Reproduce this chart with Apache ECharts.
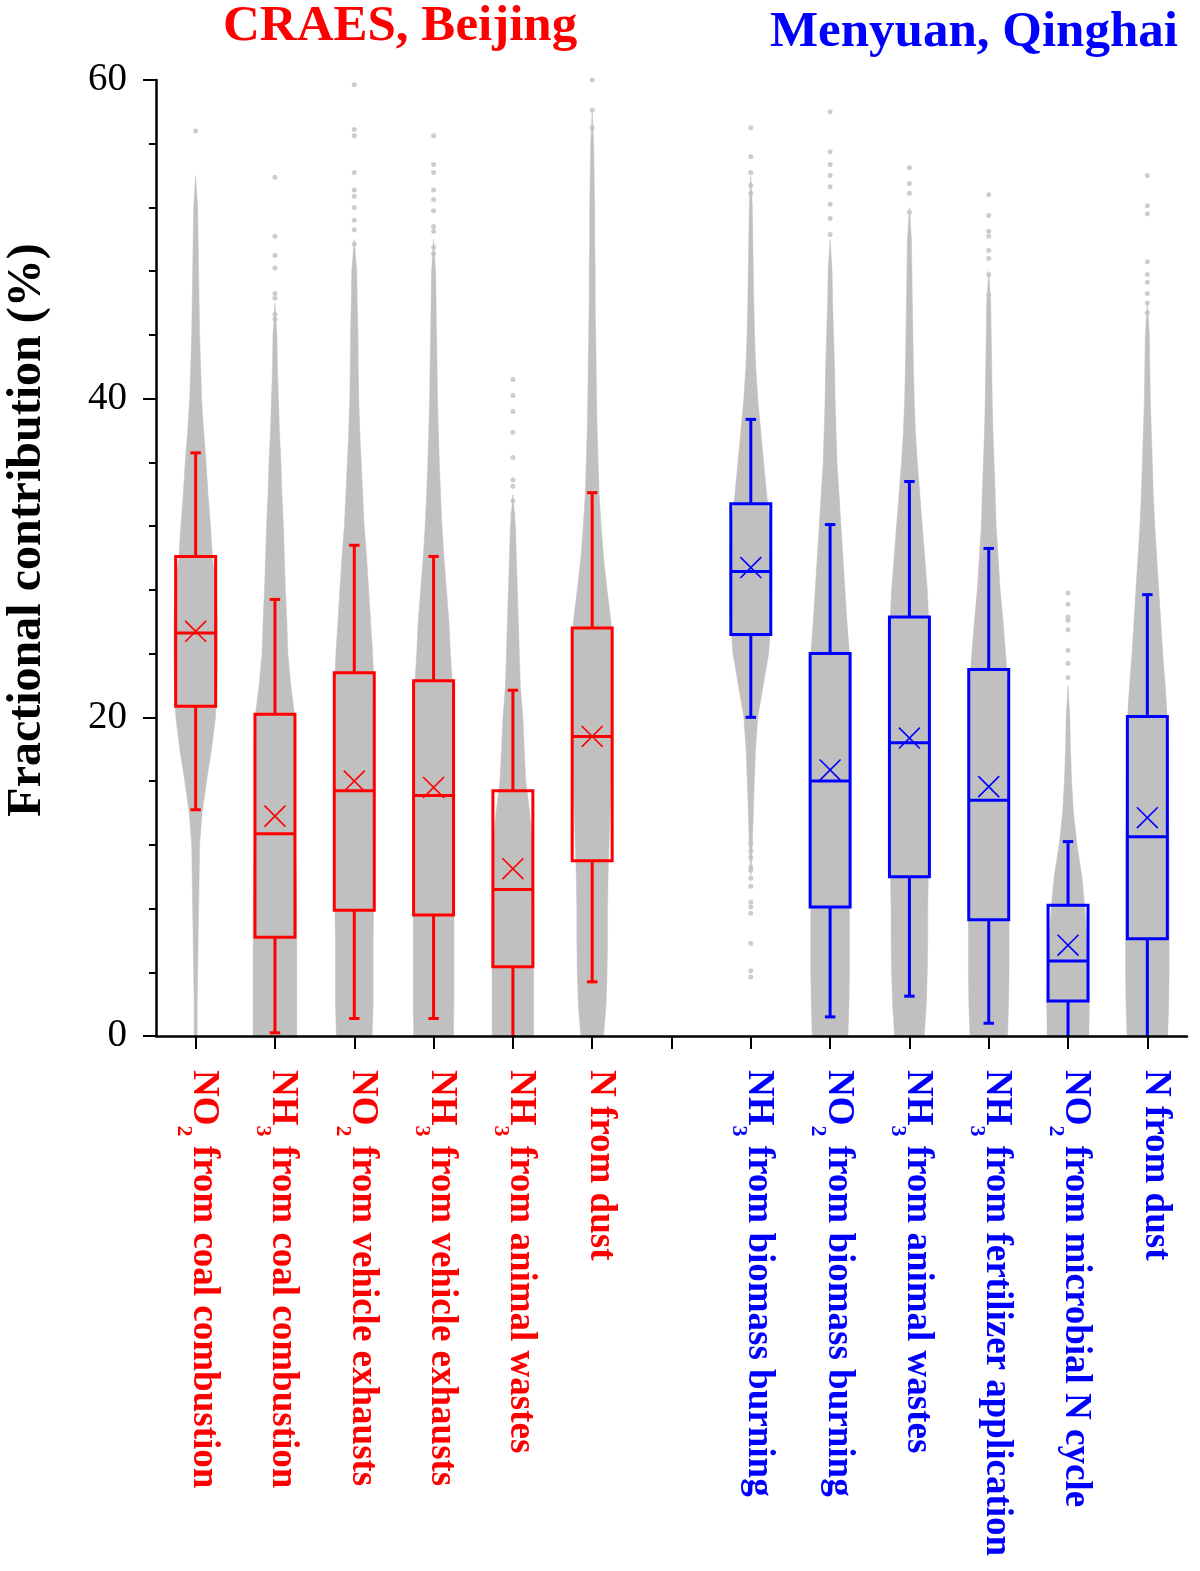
<!DOCTYPE html>
<html>
<head>
<meta charset="utf-8">
<script src="https://cdn.jsdelivr.net/npm/echarts@6.0.0/dist/echarts.min.js"></script>
<style>
html,body{margin:0;padding:0;background:#fff;}
#chart{width:1200px;height:1571px;}
</style>
</head>
<body>
<div id="chart"></div>
<script>
// ---------------- data ----------------
const categories = [
  'NO2 from coal combustion', 'NH3 from coal combustion', 'NO2 from vehicle exhausts',
  'NH3 from vehicle exhausts', 'NH3 from animal wastes', 'N from dust', '',
  'NH3 from biomass burning', 'NO2 from biomass burning', 'NH3 from animal wastes',
  'NH3 from fertilizer application', 'NO2 from microbial N cycle', 'N from dust'
];
const siteOf = ['r','r','r','r','r','r','', 'b','b','b','b','b','b'];
const siteTitles = ['CRAES, Beijing', 'Menyuan, Qinghai'];

// box statistics (%)
const whiskerLow  = [14.2, 0.2, 1.1, 1.1, 0.0, 3.4, null, 20.0, 1.2, 2.5, 0.8, 0.0, 0.0];
const quartile1   = [20.7, 6.2, 7.9, 7.6, 4.35, 11.0, null, 25.2, 8.1, 10.0, 7.3, 2.2, 6.1];
const medianVal   = [25.3, 12.7, 15.4, 15.1, 9.2, 18.8, null, 29.15, 16.0, 18.4, 14.8, 4.7, 12.5];
const meanVal     = [25.4, 13.8, 16.0, 15.6, 10.5, 18.8, null, 29.4, 16.7, 18.7, 15.65, 5.7, 13.7];
const quartile3   = [30.1, 20.2, 22.8, 22.3, 15.4, 25.6, null, 33.4, 24.0, 26.3, 23.0, 8.2, 20.05];
const whiskerHigh = [36.6, 27.4, 30.8, 30.1, 21.7, 34.1, null, 38.7, 32.1, 34.8, 30.6, 12.2, 27.7];

// density of the simulated points: half-width (in 1/80 of a category band) at each level
const cloudLevels = [0,2,4,6,8,10,12,14,16,18,20,22,24,26,28,30,32,34,36,38,40,42,44,46,48,50,52,54,56,58,60];
const cloudHalfWidth = [
  [1.5,1.5,2,2.5,3,3.5,4,6.5,11,16,20,21.5,22,22,21,17,15,12.5,10.5,8,6,5,4,3.5,3,2.5,2,0,0,0,0],
  [22,22,22,22,22,21.5,21,21,21,21,20,16,13,12,10.5,9.5,8.5,7,6,4.5,3.5,2.5,2,0,0,0,0,0,0,0,0],
  [18,19,19,19,19.5,20,20.5,21,21,21,21,20,18.5,16.5,14.5,12.5,10,8.5,7,5.5,4.5,4,3.8,3,2.5,0,0,0,0,0,0],
  [20,20.5,20.5,20.5,20.5,21,21,21,21,21,20,19,17,15.5,13,10.5,8.5,7,5.8,4.8,4,3.5,3,2.5,2,0,0,0,0,0,0],
  [21,21,21,21,21,20.5,20,17,13,11.5,10,7.5,6.5,5.5,4.5,3.5,2.5,0,0,0,0,0,0,0,0,0,0,0,0,0,0],
  [11.5,14,15,15.5,15.5,16,17,18,19,19.5,20,20,20,19,15,11.5,9,7,6,5,4.4,4,3.5,3,3,2.5,2.5,2,1.5,0,0],
  null,
  [0,0,0,0,0,0,1.5,2.5,3.5,4.8,7,12.5,18,20.5,21,21,20,16,13,10,7,5,3.8,3,2.5,2,1.5,0,0,0,0],
  [18,19,19.5,19.5,19.5,19.5,19.5,19.5,19.5,19.5,19.5,19.5,19.5,17,15,13,11,9,7,6,5,4.5,3.5,2.5,2,0,0,0,0,0,0],
  [15,17,18,18.5,18.5,19,19.5,19.5,19.5,19.5,19.5,19.5,19.5,19.5,18,15.5,13,10.5,8,6,4.8,4,3.5,3,2.5,2,0,0,0,0,0],
  [19,20,20.5,20.5,20.5,20.5,20.5,20.5,20.5,20,20,19.5,17,14.5,11.5,9.5,7.5,6.5,5.4,4.2,3.5,3,2.5,2,0,0,0,0,0,0,0],
  [21,21.5,20.5,19,17,14,9,5.5,3.6,2.5,1.8,0,0,0,0,0,0,0,0,0,0,0,0,0,0,0,0,0,0,0,0],
  [20.5,21.5,22,22,22,22,22,21.5,21.5,21,20,18,15.5,13.5,11.5,9.5,7.5,6,5,4,3,2.5,2,0,0,0,0,0,0,0,0]
];

// isolated simulated points (%)
const sparsePoints = [
  [56.8],
  [53.9, 50.2, 49.0, 48.2, 46.6, 46.3, 45.3, 45.0],
  [59.7, 56.9, 56.5, 54.2, 53.1, 52.7, 52.0, 51.2, 50.6, 49.7],
  [56.5, 54.7, 54.2, 53.1, 52.5, 51.8, 50.8, 50.5, 49.5, 49.1],
  [41.2, 40.2, 39.2, 37.9, 36.3, 34.9, 34.5, 33.6, 32.8],
  [60.0, 58.1, 57.0],
  [],
  [57.0, 55.2, 54.2, 53.4, 52.9, 12.1, 11.6, 11.2, 10.6, 10.4, 9.9, 9.4, 8.4, 8.1, 7.7, 5.8, 4.1, 3.7],
  [58.0, 55.5, 54.7, 54.0, 53.3, 52.2, 51.3, 50.3],
  [54.5, 53.5, 52.9, 51.7],
  [52.8, 51.5, 50.5, 50.2, 49.3, 48.8, 47.8, 46.5],
  [27.8, 27.1, 26.3, 26.1, 25.5, 24.2, 23.4, 22.5],
  [54.0, 52.1, 51.6, 48.6, 47.8, 47.3, 46.6, 46.0, 45.4]
];

const yName = 'Fractional contribution (%)';
const yMin = 0, yMax = 60, yInterval = 20;

// ---------------- styles ----------------
const FONT = "'Liberation Serif','Times New Roman',Times,serif";
const COLORS = { r: '#FF0000', b: '#0000FF' };
const GRAY = '#C0C0C0';

// ---------------- build ----------------
const cloudData = [];
cloudHalfWidth.forEach((p, i) => { if (p) cloudData.push([i, 0]); });

const boxData = [];
categories.forEach((c, i) => {
  if (medianVal[i] == null) return;
  boxData.push([i, whiskerLow[i], quartile1[i], medianVal[i], meanVal[i], quartile3[i], whiskerHigh[i]]);
});

const pointData = [];
sparsePoints.forEach((arr, i) => arr.forEach(v => pointData.push([i, v])));

function renderCloud(params, api) {
  const i = api.value(0);
  const prof = cloudHalfWidth[i];
  if (!prof) return;
  const unit = api.size([1, 0])[0] / 80;
  let last = prof.length - 1;
  while (last > 0 && prof[last] === 0 && prof[last - 1] === 0) last--;
  let first = 0;
  while (first < last && prof[first] === 0 && prof[first + 1] === 0) first++;
  const right = [], left = [];
  for (let k = first; k <= last; k++) {
    const p = api.coord([i, cloudLevels[k]]);
    right.push([p[0] + prof[k] * unit, p[1]]);
    left.unshift([p[0] - prof[k] * unit, p[1]]);
  }
  return {
    type: 'polygon',
    shape: { points: right.concat(left) },
    style: { fill: GRAY, stroke: GRAY, lineWidth: 0.5 }
  };
}

function renderBox(params, api) {
  const i = api.value(0);
  const color = COLORS[siteOf[i]];
  const bw = api.size([1, 0])[0];
  const hb = bw * 0.252, hc = bw * 0.066, hm = bw * 0.132;
  const c = v => api.coord([i, v]);
  const low = api.value(1);
  const pLow = c(low), pQ1 = c(api.value(2)), pMed = c(api.value(3)),
        pMean = c(api.value(4)), pQ3 = c(api.value(5)), pHigh = c(api.value(6));
  const x = pMed[0];
  const st = { stroke: color, lineWidth: 3, fill: null };
  const thin = { stroke: color, lineWidth: 1.6, fill: null };
  const children = [
    { type: 'line', shape: { x1: x, y1: pQ3[1], x2: x, y2: pHigh[1] }, style: st },
    { type: 'line', shape: { x1: x, y1: pQ1[1], x2: x, y2: pLow[1] }, style: st },
    { type: 'line', shape: { x1: x - hc, y1: pHigh[1], x2: x + hc, y2: pHigh[1] }, style: st },
    { type: 'rect', shape: { x: x - hb, y: pQ3[1], width: 2 * hb, height: pQ1[1] - pQ3[1] }, style: st },
    { type: 'line', shape: { x1: x - hb, y1: pMed[1], x2: x + hb, y2: pMed[1] }, style: st },
    { type: 'line', shape: { x1: x - hm, y1: pMean[1] - hm, x2: x + hm, y2: pMean[1] + hm }, style: thin },
    { type: 'line', shape: { x1: x - hm, y1: pMean[1] + hm, x2: x + hm, y2: pMean[1] - hm }, style: thin }
  ];
  if (low > 0) {
    children.push({ type: 'line', shape: { x1: x - hc, y1: pLow[1], x2: x + hc, y2: pLow[1] }, style: st });
  }
  return { type: 'group', children };
}

function labelFormatter(value, index) {
  const g = siteOf[index];
  if (!g || !value) return '';
  const m = value.match(/^(N[OH])([23])(.*)$/);
  if (m) return '{' + g + '|' + m[1] + '}{' + g + 's|' + m[2] + '}{' + g + '|' + m[3] + '}';
  return '{' + g + '|' + value + '}';
}

const mainLbl = { fontFamily: FONT, fontWeight: 'bold', fontSize: 37, lineHeight: 44 };
const subLbl = { fontFamily: FONT, fontWeight: 'bold', fontSize: 22, lineHeight: 22, padding: [40, 0, 0, 0] };

const chart = echarts.init(document.getElementById('chart'), null, { renderer: 'canvas' });
chart.setOption({
  backgroundColor: '#ffffff',
  animation: false,
  grid: { left: 156, right: 13, top: 80, bottom: 535, containLabel: false, outerBoundsMode: 'none' },
  graphic: [
    { type: 'text', z: 100, style: { x: 223, y: 27, text: siteTitles[0], font: 'bold 51px ' + FONT, fill: COLORS.r, align: 'left', verticalAlign: 'middle' } },
    { type: 'text', z: 100, style: { x: 1178, y: 33, text: siteTitles[1], font: 'bold 51px ' + FONT, fill: COLORS.b, align: 'right', verticalAlign: 'middle' } }
  ],
  xAxis: {
    type: 'category',
    data: categories,
    boundaryGap: true,
    z: 10,
    axisLine: { show: true, onZero: false, lineStyle: { color: '#000', width: 2.5 } },
    axisTick: { show: true, alignWithLabel: true, interval: 0, length: 13, lineStyle: { color: '#000', width: 2 } },
    splitLine: { show: false },
    axisLabel: {
      interval: 0, rotate: -90, margin: 34, padding: [0, 0, 16, 0],
      formatter: labelFormatter,
      rich: {
        r: Object.assign({ color: COLORS.r }, mainLbl),
        rs: Object.assign({ color: COLORS.r }, subLbl),
        b: Object.assign({ color: COLORS.b }, mainLbl),
        bs: Object.assign({ color: COLORS.b }, subLbl)
      }
    }
  },
  yAxis: {
    type: 'value',
    min: yMin, max: yMax, interval: yInterval,
    z: 10,
    name: yName,
    nameLocation: 'middle',
    nameRotate: 90,
    nameGap: 104,
    nameTextStyle: { fontFamily: FONT, fontWeight: 'bold', fontSize: 48, color: '#000', padding: [0, 0, 0, 56] },
    axisLine: { show: true, lineStyle: { color: '#000', width: 2.5 } },
    axisTick: { show: true, length: 13, lineStyle: { color: '#000', width: 2 } },
    minorTick: { show: true, splitNumber: 5, length: 7, lineStyle: { color: '#000', width: 2 } },
    splitLine: { show: false },
    minorSplitLine: { show: false },
    axisLabel: { fontFamily: FONT, fontSize: 39, color: '#000', margin: 29 }
  },
  series: [
    { type: 'custom', name: 'cloud', data: cloudData, renderItem: renderCloud, encode: { x: 0, y: 1 }, z: 1, silent: true, clip: false },
    { type: 'scatter', name: 'points', data: pointData, symbol: 'circle', symbolSize: 5, itemStyle: { color: GRAY }, z: 2, silent: true },
    { type: 'custom', name: 'box', data: boxData, renderItem: renderBox, encode: { x: 0, y: [1, 2, 3, 4, 5, 6] }, z: 3, silent: true, clip: false }
  ]
});
</script>
</body>
</html>
